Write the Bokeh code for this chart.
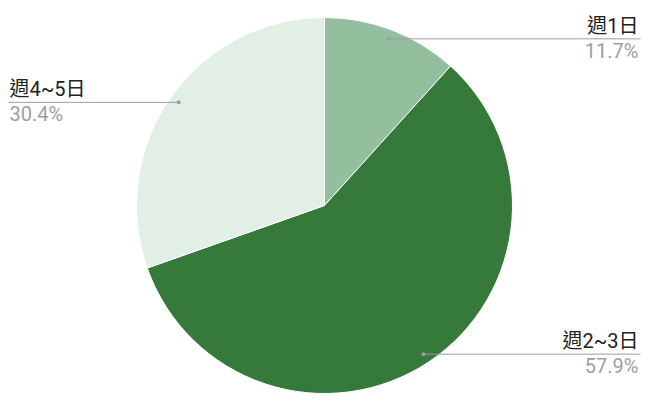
import math
from bokeh.plotting import figure
from bokeh.models import Range1d, ColumnDataSource
from bokeh.core.properties import value
from bokeh.embed import file_html
from bokeh.resources import INLINE

categories = ["週1日", "週2~3日", "週4~5日"]
percents = [11.7, 57.9, 30.4]
colors = ["#93bf9e", "#357a3b", "#e1efe5"]

W, H = 642, 401
cx, cy, R = 324, 401 - 205, 188
FONT = "Roboto, Noto Sans CJK TC"

p = figure(width=W, height=H, output_backend="svg", toolbar_location=None,
           x_range=Range1d(0, W), y_range=Range1d(0, H), min_border=0)
p.axis.visible = False
p.grid.visible = False
p.outline_line_color = None
p.background_fill_color = "white"

total = sum(percents)
cum = 0.0
starts, ends = [], []
for v in percents:
    starts.append(math.pi / 2 - 2 * math.pi * (cum + v) / total)
    ends.append(math.pi / 2 - 2 * math.pi * cum / total)
    cum += v

src = ColumnDataSource(dict(start=starts, end=ends, color=colors))
p.wedge(x=cx, y=cy, radius=R, start_angle="start", end_angle="end",
        fill_color="color", line_color="white", line_width=1, source=src)

cum = 0.0
for cat, v in zip(categories, percents):
    mid = (cum + v / 2) / total
    cum += v
    ang = math.pi / 2 - 2 * math.pi * mid
    px = cx + 0.95 * R * math.cos(ang)
    py = cy + 0.95 * R * math.sin(ang)
    right = px > cx
    if right:
        x0, x1, tx, align = px, 640, 638, "right"
    else:
        x0, x1, tx, align = 8, px, 9, "left"
    p.line([x0, x1], [py, py], line_color="#9e9e9e", line_width=1)
    p.scatter([px], [py], size=4, fill_color="#9e9e9e", line_color=None)
    p.text([tx], [py + 1], text=[cat], text_font=value(FONT), text_font_size="20px",
           text_color="#222222", text_align=align, text_baseline="bottom")
    p.text([tx], [py], text=[f"{v}%"], text_font=value(FONT), text_font_size="20px",
           text_color="#9e9e9e", text_align=align, text_baseline="top")

open("out.html", "w").write(file_html(p, INLINE))
